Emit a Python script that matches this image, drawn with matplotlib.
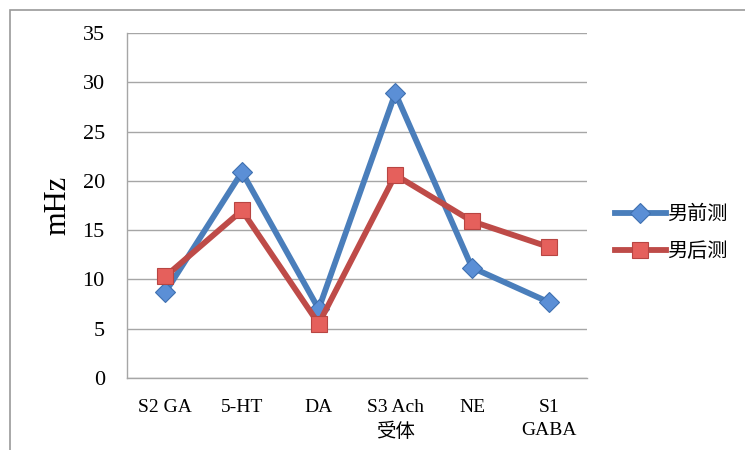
import matplotlib
matplotlib.use("Agg")
import matplotlib.pyplot as plt
from matplotlib.patches import Rectangle

categories = ["S2 GA", "5-HT", "DA", "S3 Ach\n受体", "NE", "S1\nGABA"]
pre_values = [8.7, 20.9, 7.0, 28.9, 11.2, 7.7]
post_values = [10.3, 17.0, 5.5, 20.6, 15.9, 13.3]
series_names = ["男前测", "男后测"]
yticks = [0, 5, 10, 15, 20, 25, 30, 35]

fam = ["Liberation Serif", "Noto Sans CJK SC", "DejaVu Sans"]
plt.rcParams["font.family"] = fam

fig = plt.figure(figsize=(7.45, 4.5), dpi=100)
fig.patches.append(Rectangle((10/745, -0.1), 1.2, 1 - 10/450 + 0.1,
                             transform=fig.transFigure, fill=False,
                             edgecolor="#9a9a9a", linewidth=1.2))
ax = fig.add_axes([127/745, 1 - 378/450, 460/745, (378 - 33)/450])

x = list(range(len(categories)))
ax.plot(x, pre_values, color="#4a7ebb", lw=4.2, marker="D", markersize=10,
        markerfacecolor="#5b8fd6", markeredgecolor="#3f70b0", markeredgewidth=0.8,
        label=series_names[0], solid_joinstyle="miter", zorder=3)
ax.plot(x, post_values, color="#be4b48", lw=4.2, marker="s", markersize=11,
        markerfacecolor="#e5605c", markeredgecolor="#b84542", markeredgewidth=0.8,
        label=series_names[1], solid_joinstyle="miter", zorder=4)

ax.set_xlim(-0.5, len(categories) - 0.5)
ax.set_ylim(0, 35)
ax.set_yticks(yticks)
ax.set_xticks(x)
ax.set_xticklabels(categories, fontsize=14, linespacing=1.5, va="top")
ax.tick_params(axis="x", length=0, labelsize=14, pad=15)
ax.tick_params(axis="y", length=0, labelsize=16, pad=16)
ax.grid(axis="y", color="#a6a6a6", lw=1.0)
ax.set_axisbelow(True)
for s in ["top", "right"]:
    ax.spines[s].set_visible(False)
for s in ["left", "bottom"]:
    ax.spines[s].set_color("#a6a6a6")
    ax.spines[s].set_linewidth(1.0)
ax.set_ylabel("mHz", fontsize=22, va="center")
ax.yaxis.set_label_coords(-0.15, 0.5)

leg = ax.legend(loc="center left", bbox_to_anchor=(1.022, 0.42), frameon=False,
                handlelength=2.5, handletextpad=0.05, labelspacing=0.8,
                prop={"family": ["Noto Sans CJK SC", "DejaVu Sans"], "size": 14.5})

fig.savefig("out.png", dpi=100)
